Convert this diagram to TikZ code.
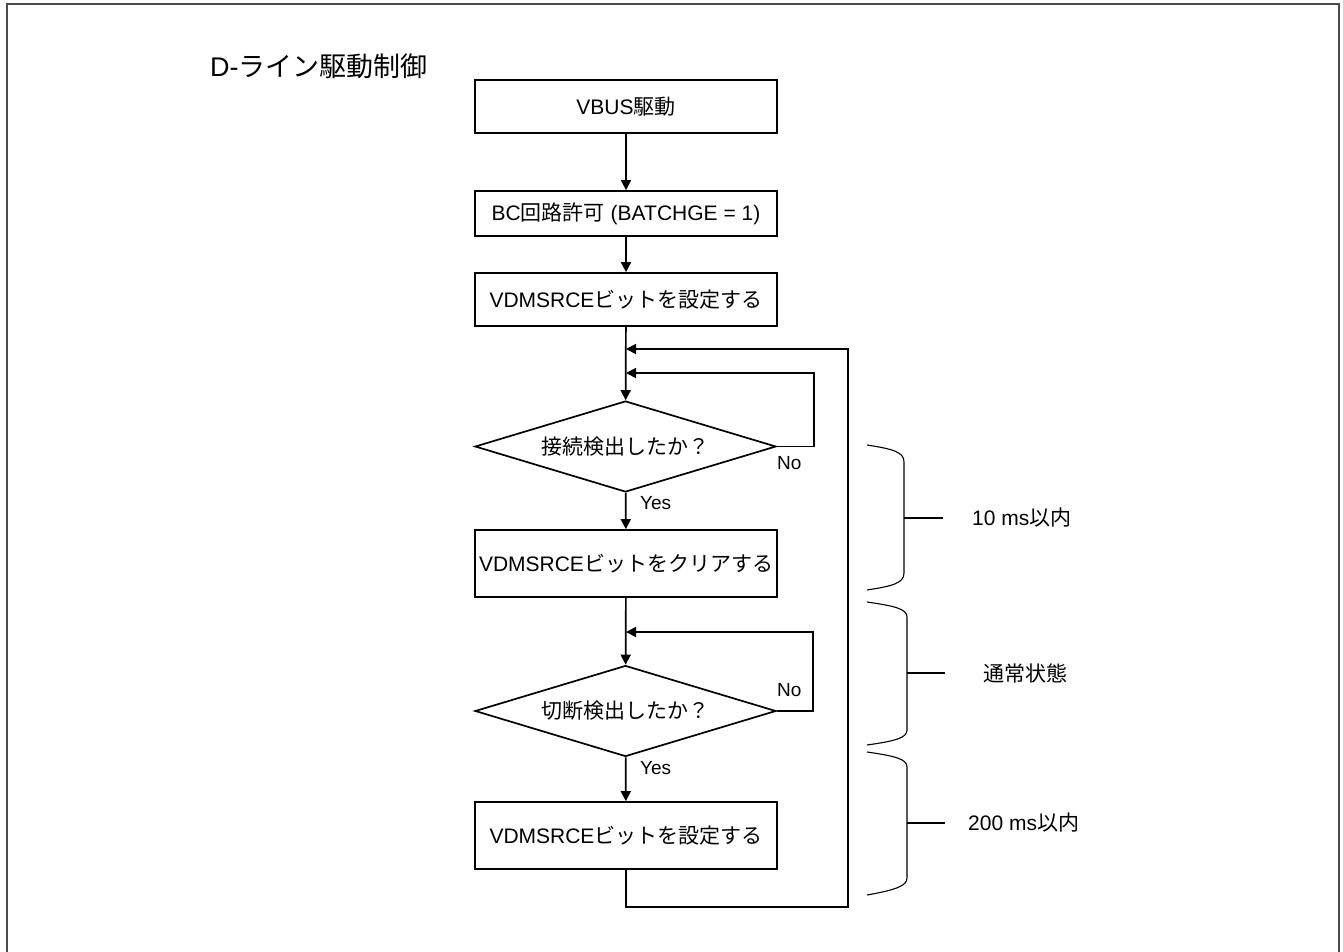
\documentclass[tikz,border=0pt]{standalone}
\usepackage{fontspec}
\setmainfont{Liberation Sans}
\newfontfamily\jp{Noto Sans CJK JP}
\usetikzlibrary{arrows.meta,shapes.geometric}
\definecolor{framegray}{gray}{0.3}
\tikzset{
  stepbox/.style={draw,line width=1.7pt,minimum width=302pt,inner sep=0pt,font=\fontsize{21}{25}\selectfont},
  decision/.style={draw,line width=1.7pt,diamond,aspect=3.3,minimum width=301pt,minimum height=91pt,inner sep=0pt,font=\fontsize{21}{25}\selectfont},
  flow/.style={line width=1.7pt,-{Triangle[length=10pt,width=10pt]}},
  lbl/.style={font=\fontsize{19}{23}\selectfont,inner sep=0pt},
  sidelbl/.style={font=\fontsize{21}{25}\selectfont,inner sep=0pt},
  bracestyle/.style={line width=1.1pt},
}
\begin{document}
\begin{tikzpicture}[x=1pt,y=-1pt]
\useasboundingbox (0,0) rectangle (1343,951);
\draw[framegray,line width=2pt] (7,4) rectangle (1339,990);
\node[anchor=west,inner sep=0pt,font=\fontsize{27}{31}\selectfont] (title) at (210,66) {D-{\jp ライン駆動制御}};
\node[stepbox,minimum height=53pt] (b1) at (626,106.5) {VBUS{\jp 駆動}};
\node[stepbox,minimum height=45pt] (b2) at (626,213.5) {BC{\jp 回路許可} (BATCHGE = 1)};
\node[stepbox,minimum height=53pt] (b3) at (626,299.5) {VDMSRCE{\jp ビットを設定する}};
\node[decision] (d1) at (625.5,446.5) {{\jp 接続検出したか？}};
\node[stepbox,minimum height=67pt] (b4) at (626,563.5) {VDMSRCE{\jp ビットをクリアする}};
\node[decision] (d2) at (625.5,711) {{\jp 切断検出したか？}};
\node[stepbox,minimum height=67pt] (b5) at (626,835.5) {VDMSRCE{\jp ビットを設定する}};
\coordinate (j0) at (626,349);
\coordinate (j1) at (626,373);
\coordinate (j2) at (626,632);
\draw[flow] (b1) -- (b2);
\draw[flow] (b2) -- (b3);
\draw[flow] (b3) -- (d1);
\draw[flow] (d1.east) -| (814,373) -- (j1);
\draw[flow] (d1) -- (b4);
\draw[flow] (b4) -- (d2);
\draw[flow] (d2.east) -| (813,632) -- (j2);
\draw[flow] (d2) -- (b5);
\draw[flow] (b5.south) |- (848,907) |- (j0);
\node[lbl,anchor=west] (no1) at (777,463) {No};
\node[lbl,anchor=west] (yes1) at (640,503) {Yes};
\node[lbl,anchor=west] (no2) at (777,690) {No};
\node[lbl,anchor=west] (yes2) at (640,768) {Yes};
% braces
\draw[bracestyle] (867,445) .. controls (893,449) and (904,452) .. (904,462) -- (904,573) .. controls (904,583) and (893,586) .. (867,590);
\draw[bracestyle] (904,518) -- (943,518);
\node[sidelbl,anchor=west] (t1) at (972,518) {10 ms{\jp 以内}};
\draw[bracestyle] (867,602) .. controls (895,606) and (907,609) .. (907,617) -- (907,730) .. controls (907,738) and (895,741) .. (867,745);
\draw[bracestyle] (907,673) -- (945,673);
\node[sidelbl,anchor=west] (t2) at (983,673) {{\jp 通常状態}};
\draw[bracestyle] (867,752) .. controls (895,756) and (907,759) .. (907,767) -- (907,878) .. controls (907,886) and (895,890) .. (867,895);
\draw[bracestyle] (907,823) -- (945,823);
\node[sidelbl,anchor=west] (t3) at (968,823) {200 ms{\jp 以内}};
\end{tikzpicture}
\end{document}
